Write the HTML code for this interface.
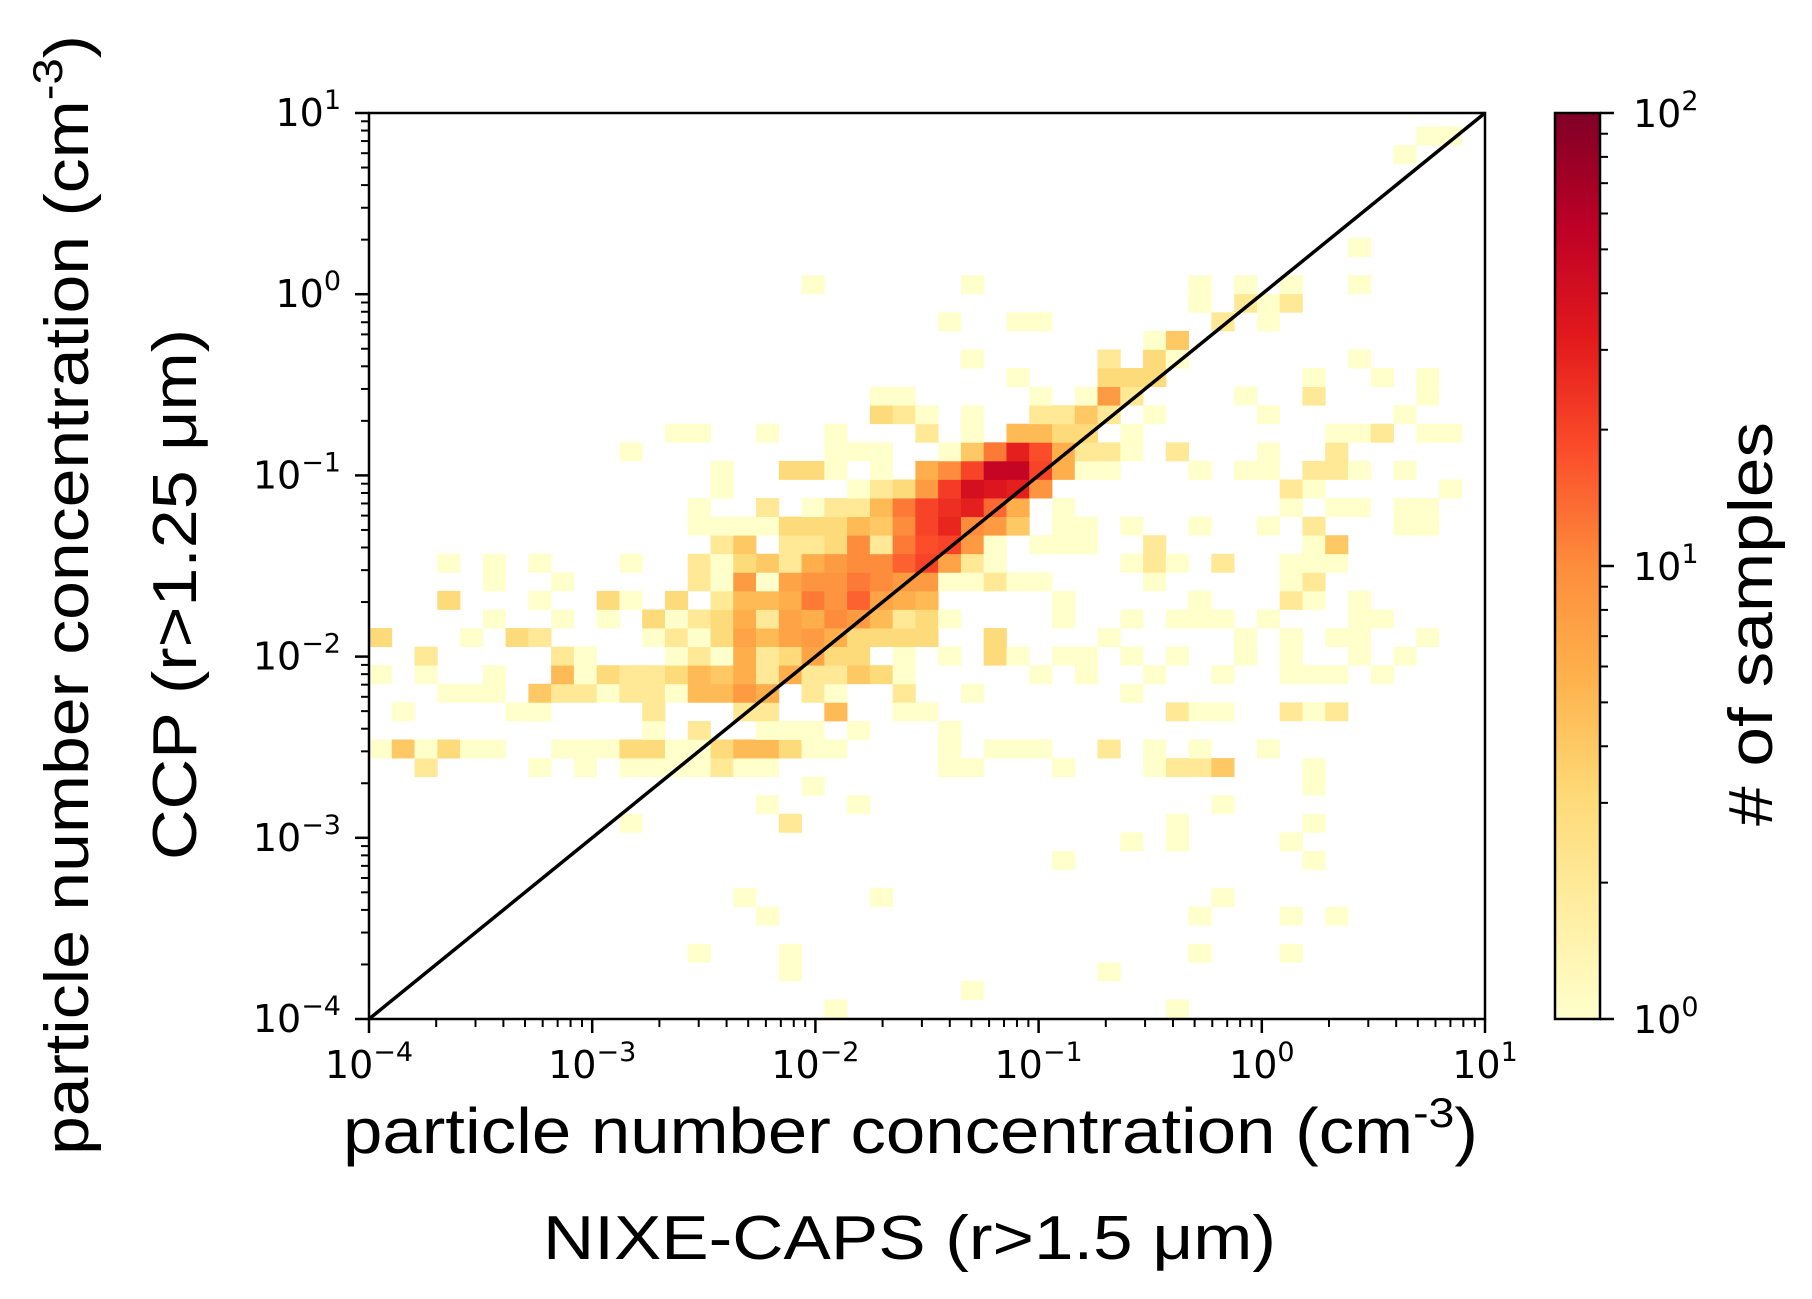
<!DOCTYPE html>
<html>
<head>
<meta charset="utf-8">
<style>
html,body{margin:0;padding:0;background:#fff;}
svg{display:block;}
text{font-family:"DejaVu Sans","Liberation Sans",sans-serif;fill:#000;}
.big{font-family:"Liberation Sans",Arial,sans-serif;}
</style>
</head>
<body>
<svg id="chart" width="1812" height="1299" viewBox="0 0 1812 1299" xmlns="http://www.w3.org/2000/svg">
  <defs>
    <linearGradient id="cbgrad" x1="0" y1="1" x2="0" y2="0">
      <stop offset="0" stop-color="#ffffcc"/>
      <stop offset="0.125" stop-color="#ffeda0"/>
      <stop offset="0.25" stop-color="#fed976"/>
      <stop offset="0.375" stop-color="#feb24c"/>
      <stop offset="0.5" stop-color="#fd8d3c"/>
      <stop offset="0.625" stop-color="#fc4e2a"/>
      <stop offset="0.75" stop-color="#e31a1c"/>
      <stop offset="0.875" stop-color="#bd0026"/>
      <stop offset="1" stop-color="#800026"/>
    </linearGradient>
    <clipPath id="plotclip"><rect x="369" y="113" width="1116" height="906"/></clipPath>
  </defs>
  <g id="cells" clip-path="url(#plotclip)"></g>
  <line id="diag" stroke="#000" stroke-width="3.5"/>
  <rect id="frame" x="369" y="113" width="1116" height="906" fill="none" stroke="#000" stroke-width="2.5"/>
  <g id="ticks"></g>
  <rect id="cbar" x="1555" y="113" width="45" height="906" fill="url(#cbgrad)" stroke="#000" stroke-width="2.5"/>
  <g id="cbticks"></g>

  <text class="big" x="343" y="1153" font-size="64" textLength="1135" lengthAdjust="spacingAndGlyphs">particle number concentration (cm<tspan dy="-26" font-size="42">-3</tspan><tspan dy="26">)</tspan></text>
  <text class="big" x="543" y="1259" font-size="62" textLength="733" lengthAdjust="spacingAndGlyphs">NIXE-CAPS (r&gt;1.5 μm)</text>
  <text class="big" transform="translate(88,1155) rotate(-90)" font-size="62" textLength="1120" lengthAdjust="spacingAndGlyphs">particle number concentration (cm<tspan dy="-26" font-size="42">-3</tspan><tspan dy="26">)</tspan></text>
  <text class="big" transform="translate(196,860) rotate(-90)" font-size="62" textLength="531" lengthAdjust="spacingAndGlyphs">CCP (r&gt;1.25 μm)</text>
  <text class="big" transform="translate(1772,826) rotate(-90)" font-size="62" textLength="404" lengthAdjust="spacingAndGlyphs"># of samples</text>
</svg>
<script>
// ---- data: 2D histogram bins (column index, row index, count) ----
const binCol = [
 20,35, 26, 18,32, 14,18,36,40, 17,36,40,42, 16,22,37, 30,41, 33,35,40, 11,18,35,41, 17,21,37, 19,41,
 2,7,9,11,12,13,14,15,16,17,25,26,30,34,35,36,37,41,
 0,1,2,3,4,5,8,9,10,11,12,13,14,15,16,17,18,19,20,25,27,28,29,32,34,36,39,
 12,14,17,18,19,21,25,
 1,6,7,12,16,17,20,23,24,35,36,37,40,41,42,
 3,4,5,7,8,9,10,11,12,13,14,15,16,17,19,20,23,26,33,
 0,2,5,8,9,10,11,12,13,14,15,16,17,18,19,20,21,22,23,29,31,34,37,40,41,42,44,
 2,8,9,13,14,15,16,17,18,19,20,21,23,25,27,28,30,31,33,35,38,40,43,45,
 0,4,6,7,12,13,14,15,16,17,18,19,20,21,22,23,24,27,32,38,40,42,43,46,
 5,8,10,12,13,14,15,16,17,18,19,20,21,22,23,24,25,30,33,35,36,37,39,43,44,
 3,7,10,11,13,15,16,17,18,19,20,21,22,23,24,30,36,40,41,43,
 5,8,14,15,16,17,18,19,20,21,22,23,24,25,26,27,28,29,34,40,41,
 3,5,7,11,14,15,16,17,18,19,20,21,22,23,24,25,26,27,33,34,35,37,40,41,42,
 15,16,18,19,20,21,22,23,24,25,26,27,29,30,31,34,41,42,
 14,15,16,17,18,19,20,21,22,23,24,25,26,27,28,30,31,33,36,39,41,45,46,
 14,17,19,20,21,22,23,24,25,26,27,28,30,40,42,43,45,46,
 15,21,22,23,24,25,26,27,28,29,40,41,47,
 15,18,19,20,22,24,25,26,27,28,29,30,31,32,36,38,39,41,42,43,45,
 11,20,21,22,25,26,27,28,29,30,31,32,33,35,39,42,
 13,14,17,20,24,26,28,29,30,31,33,42,43,44,46,47,
 22,23,24,26,29,30,31,32,34,39,45,
 22,23,29,31,32,33,38,41,46,
 28,32,33,34,41,44,46,
 26,32,34,35,43,
 34,35,
 25,28,29,37,39,
 36,38,39,40,
 19,26,36,38,40,43,
 43, 45, 46,47
];
const binRow = [
 0,0, 1, 2,2, 3,3,3,3, 5,5,5,5, 6,6,6, 8,8, 9,9,9, 10,10,10,10, 11,11,11, 12,12,
 13,13,13,13,13,13,13,13,13,13,13,13,13,13,13,13,13,13,
 14,14,14,14,14,14,14,14,14,14,14,14,14,14,14,14,14,14,14,14,14,14,14,14,14,14,14,
 15,15,15,15,15,15,15,
 16,16,16,16,16,16,16,16,16,16,16,16,16,16,16,
 17,17,17,17,17,17,17,17,17,17,17,17,17,17,17,17,17,17,17,
 18,18,18,18,18,18,18,18,18,18,18,18,18,18,18,18,18,18,18,18,18,18,18,18,18,18,18,
 19,19,19,19,19,19,19,19,19,19,19,19,19,19,19,19,19,19,19,19,19,19,19,19,
 20,20,20,20,20,20,20,20,20,20,20,20,20,20,20,20,20,20,20,20,20,20,20,20,
 21,21,21,21,21,21,21,21,21,21,21,21,21,21,21,21,21,21,21,21,21,21,21,21,21,
 22,22,22,22,22,22,22,22,22,22,22,22,22,22,22,22,22,22,22,22,
 23,23,23,23,23,23,23,23,23,23,23,23,23,23,23,23,23,23,23,23,23,
 24,24,24,24,24,24,24,24,24,24,24,24,24,24,24,24,24,24,24,24,24,24,24,24,24,
 25,25,25,25,25,25,25,25,25,25,25,25,25,25,25,25,25,25,
 26,26,26,26,26,26,26,26,26,26,26,26,26,26,26,26,26,26,26,26,26,26,26,
 27,27,27,27,27,27,27,27,27,27,27,27,27,27,27,27,27,27,
 28,28,28,28,28,28,28,28,28,28,28,28,28,
 29,29,29,29,29,29,29,29,29,29,29,29,29,29,29,29,29,29,29,29,29,
 30,30,30,30,30,30,30,30,30,30,30,30,30,30,30,30,
 31,31,31,31,31,31,31,31,31,31,31,31,31,31,31,31,
 32,32,32,32,32,32,32,32,32,32,32,
 33,33,33,33,33,33,33,33,33,
 34,34,34,34,34,34,34,
 35,35,35,35,35,
 36,36,
 37,37,37,37,37,
 38,38,38,38,
 39,39,39,39,39,39,
 41, 46, 47,47
];
const binCount = [
 1,1, 1, 1,1, 1,1,1,1, 1,1,1,1, 1,1,1, 1,1, 1,1,1, 1,2,1,1, 1,1,1, 1,1,
 2,1,1,1,1,1,1,2,1,1,1,1,1,1,2,2,4,1,
 1,4,1,3,1,1,1,1,1,3,3,1,1,3,5,5,3,1,1,1,1,1,1,2,1,1,1,
 1,2,1,1,1,1,1,
 1,1,1,2,2,2,5,1,1,2,1,1,2,1,2,
 1,1,1,4,2,2,1,2,2,1,5,5,8,6,2,1,2,1,1,
 1,1,1,5,1,3,2,2,3,5,4,6,2,6,2,2,4,3,1,1,1,1,1,1,1,1,1,
 2,2,1,1,2,1,6,2,3,7,3,3,1,1,3,1,1,1,1,1,1,1,1,1,
 3,1,3,2,1,2,1,3,7,5,7,8,6,3,3,3,3,3,1,1,1,1,1,1,
 1,1,1,3,1,2,3,6,2,7,6,10,8,5,2,3,1,1,1,1,1,1,1,1,1,
 3,1,3,1,3,2,5,5,6,12,9,15,7,6,5,1,1,2,1,1,
 1,1,2,1,8,1,7,9,9,12,10,8,8,1,1,2,1,1,1,1,2,
 1,1,1,1,2,1,3,4,2,6,8,10,10,15,20,7,2,1,1,2,1,2,1,1,1,
 2,4,2,2,3,10,2,12,18,20,8,1,1,1,1,2,1,4,
 1,1,1,1,3,3,3,5,4,10,20,28,10,8,4,1,1,1,1,1,2,1,1,
 1,2,1,2,2,5,12,20,25,30,14,6,1,1,1,1,1,1,
 1,1,2,3,8,22,40,35,30,9,2,1,1,
 1,3,3,1,1,6,10,20,50,50,20,6,1,1,1,1,1,2,2,1,1,
 1,1,1,1,1,4,12,30,18,6,2,2,1,2,1,2,
 1,1,1,1,2,1,5,5,3,3,1,1,1,2,1,1,
 3,2,1,1,2,2,4,2,1,1,1,
 1,1,1,1,8,2,1,2,1,
 1,3,3,3,1,1,1,
 1,2,3,1,1,
 1,4,
 1,1,1,2,1,
 1,2,1,2,
 1,1,1,1,1,1,
 1, 1, 1,1
];
// axis tick values (log10 exponents) and labels
const xTickExp = [-4,-3,-2,-1,0,1];
const yTickExp = [-4,-3,-2,-1,0,1];
const xTickLabels = ["−4","−3","−2","−1","0","1"];
const yTickLabels = ["−4","−3","−2","−1","0","1"];
const cbTickExp = [0,1,2];
const cbTickLabels = ["0","1","2"];
const binDecX = 0.102;   // bin width in decades (x)
const binDecY = 0.1025;  // bin height in decades (y)
const binOriginY = -3.995;
const binOriginX = -4;
const diagLine = [-4, 1]; // 1:1 line from 1e-4 to 1e1

// ---- scales ----
const X0=369, X1=1485, Y0=1019, Y1=113;
const LMIN=-4, LMAX=1;
function xs(l){ return X0 + (l-LMIN)/(LMAX-LMIN)*(X1-X0); }
function ys(l){ return Y0 - (l-LMIN)/(LMAX-LMIN)*(Y0-Y1); }
const CB0=1019, CB1=113;
function cbs(l){ return CB0 - l/2*(CB0-CB1); }

const stops = [[255,255,204],[255,237,160],[254,217,118],[254,178,76],[253,141,60],[252,78,42],[227,26,28],[189,0,38],[128,0,38]];
function cmap(c){
  let f = Math.max(0, Math.min(1, Math.log10(c)/2));
  const p = f*(stops.length-1);
  const i = Math.min(stops.length-2, Math.floor(p));
  const t = p - i;
  const a = stops[i], b = stops[i+1];
  return "rgb(" + [0,1,2].map(k => Math.round(a[k]+(b[k]-a[k])*t)).join(",") + ")";
}

const NS = "http://www.w3.org/2000/svg";
function mk(tag, attrs){
  const e = document.createElementNS(NS, tag);
  for (const k in attrs) e.setAttribute(k, attrs[k]);
  return e;
}

// ---- cells ----
const cellsG = document.getElementById("cells");
for (let n=0; n<binCount.length; n++){
  const lx0 = binOriginX + binCol[n]*binDecX, lx1 = lx0 + binDecX;
  const ly0 = binOriginY + binRow[n]*binDecY, ly1 = ly0 + binDecY;
  const x = xs(lx0), w = xs(lx1)-x;
  const y = ys(ly1), h = ys(ly0)-y;
  const r = mk("rect", {x:x.toFixed(2), y:y.toFixed(2), width:(w+0.4).toFixed(2), height:(h+0.4).toFixed(2), fill:cmap(binCount[n])});
  
  
  cellsG.appendChild(r);
}

// ---- diagonal ----
const dl = document.getElementById("diag");
dl.setAttribute("x1", xs(diagLine[0])); dl.setAttribute("y1", ys(diagLine[0]));
dl.setAttribute("x2", xs(diagLine[1])); dl.setAttribute("y2", ys(diagLine[1]));

// ---- axis ticks ----
const tg = document.getElementById("ticks");
function line(g, x1,y1,x2,y2,w){
  const l = mk("line", {x1:x1,y1:y1,x2:x2,y2:y2,stroke:"#000","stroke-width":w});
  
  
  g.appendChild(l);
}
for (let d=LMIN; d<LMAX; d++){
  for (let m=2; m<=9; m++){
    const l = d + Math.log10(m);
    line(tg, xs(l), Y0, xs(l), Y0+8, 2);
    line(tg, X0, ys(l), X0-8, ys(l), 2);
  }
}
xTickExp.forEach((e,i) => {
  line(tg, xs(e), Y0, xs(e), Y0+14, 2.5);
  const t = mk("text", {x:xs(e), y:1078, "font-size":38, "text-anchor":"middle"});
  
  
  t.innerHTML = '10<tspan dy="-17" font-size="27">' + xTickLabels[i] + '</tspan>';
  tg.appendChild(t);
});
yTickExp.forEach((e,i) => {
  line(tg, X0, ys(e), X0-14, ys(e), 2.5);
  const t = mk("text", {x:341, y:ys(e)+13, "font-size":38, "text-anchor":"end"});
  
  
  t.innerHTML = '10<tspan dy="-17" font-size="27">' + yTickLabels[i] + '</tspan>';
  tg.appendChild(t);
});

// ---- colorbar ticks ----
const cg = document.getElementById("cbticks");
for (let d=0; d<2; d++){
  for (let m=2; m<=9; m++){
    const l = d + Math.log10(m);
    line(cg, 1600, cbs(l), 1608, cbs(l), 2);
  }
}
cbTickExp.forEach((e,i) => {
  line(cg, 1600, cbs(e), 1614, cbs(e), 2.5);
  const t = mk("text", {x:1633, y:cbs(e)+14, "font-size":38});
  
  
  t.innerHTML = '10<tspan dy="-17" font-size="27">' + cbTickLabels[i] + '</tspan>';
  cg.appendChild(t);
});
</script>
</body>
</html>
